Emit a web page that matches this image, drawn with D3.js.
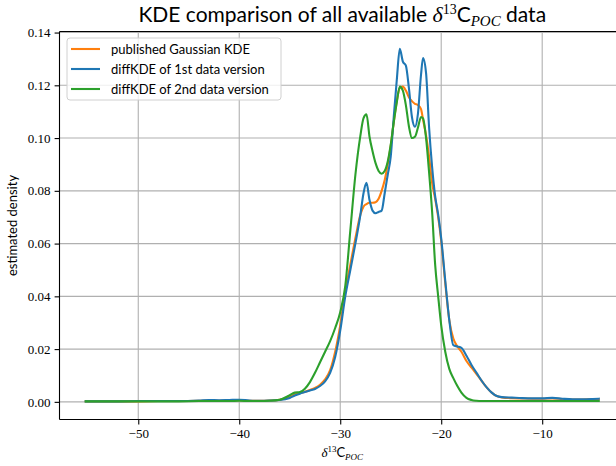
<!DOCTYPE html>
<html>
<head>
<meta charset="utf-8">
<script src="https://cdn.jsdelivr.net/npm/d3@7"></script>
<style>
  html, body { margin: 0; padding: 0; background: #fff; }
  svg { display: block; }
  .tick text { font-family: "Liberation Serif", "DejaVu Serif", serif; font-size: 13px; fill: #000; }
</style>
</head>
<body>
<svg id="chart" width="616" height="466"></svg>
<script>
// ---------- data ----------
const xValues = [-55.2, -52, -50, -48, -46, -44, -43, -42, -41, -40, -39, -38, -37, -36, -35, -34.5, -34, -33.5, -33, -32.5, -32, -31.5, -31, -30.5, -30, -29.5, -29, -28.5, -28, -27.7, -27.4, -27.1, -26.8, -26.5, -26.2, -25.9, -25.6, -25.3, -25, -24.7, -24.4, -24.1, -23.8, -23.5, -23.2, -22.9, -22.6, -22.3, -22, -21.8, -21.5, -21.2, -20.9, -20.6, -20.3, -20, -19.6, -19.2, -18.8, -18.4, -18, -17.5, -17, -16.5, -16, -15.5, -15, -14.5, -14, -13, -12, -11, -10, -9, -8, -7, -6, -5, -4.4];

const publishedKDE = [0.0002, 0.0002, 0.0002, 0.0003, 0.0003, 0.0004, 0.0005, 0.0004, 0.0005, 0.0006, 0.0004, 0.0004, 0.0005, 0.0008, 0.0018, 0.0028, 0.0033, 0.0038, 0.0045, 0.0053, 0.0065, 0.0085, 0.012, 0.019, 0.029, 0.042, 0.052, 0.062, 0.071, 0.074, 0.075, 0.0755, 0.0755, 0.0757, 0.077, 0.080, 0.084, 0.090, 0.097, 0.106, 0.114, 0.119, 0.1195, 0.118, 0.1155, 0.114, 0.113, 0.1125, 0.111, 0.107, 0.101, 0.093, 0.083, 0.077, 0.070, 0.061, 0.045, 0.031, 0.024, 0.021, 0.019, 0.0155, 0.013, 0.0105, 0.008, 0.0055, 0.0035, 0.0022, 0.0017, 0.0014, 0.0013, 0.0012, 0.0012, 0.0013, 0.0011, 0.0009, 0.0009, 0.001, 0.001];

const diffKDE1 = [0.0002, 0.0002, 0.0003, 0.0003, 0.0003, 0.0005, 0.0007, 0.0006, 0.0007, 0.0008, 0.0005, 0.0004, 0.0005, 0.0007, 0.0015, 0.0024, 0.0031, 0.0037, 0.0043, 0.0049, 0.006, 0.0078, 0.011, 0.017, 0.027, 0.040, 0.050, 0.060, 0.071, 0.079, 0.083, 0.0765, 0.0725, 0.0715, 0.072, 0.0725, 0.079, 0.086, 0.093, 0.108, 0.122, 0.1338, 0.129, 0.1275, 0.119, 0.108, 0.1043, 0.1094, 0.124, 0.1303, 0.1246, 0.104, 0.089, 0.078, 0.071, 0.062, 0.046, 0.031, 0.0215, 0.021, 0.0205, 0.0175, 0.014, 0.011, 0.008, 0.0055, 0.0035, 0.0022, 0.0018, 0.0016, 0.0014, 0.0013, 0.0013, 0.0015, 0.0012, 0.001, 0.001, 0.0011, 0.0012];

const diffKDE2 = [0.0002, 0.0002, 0.0002, 0.0002, 0.0002, 0.0003, 0.0003, 0.0003, 0.0003, 0.0004, 0.0003, 0.0003, 0.0004, 0.0008, 0.0025, 0.0035, 0.0037, 0.005, 0.0075, 0.011, 0.015, 0.019, 0.023, 0.028, 0.034, 0.044, 0.065, 0.086, 0.101, 0.1075, 0.109, 0.1005, 0.095, 0.0905, 0.0875, 0.0865, 0.0875, 0.091, 0.0975, 0.106, 0.1135, 0.1195, 0.118, 0.1125, 0.1045, 0.100, 0.1005, 0.104, 0.108, 0.1075, 0.100, 0.087, 0.072, 0.052, 0.040, 0.029, 0.019, 0.0125, 0.009, 0.006, 0.0035, 0.0015, 0.0007, 0.0004, 0.0003, 0.0003, 0.0003, 0.0003, 0.0003, 0.0003, 0.0003, 0.0003, 0.0003, 0.0003, 0.0003, 0.0003, 0.0003, 0.0003, 0.0003];

const seriesNames = ["published Gaussian KDE", "diffKDE of 1st data version", "diffKDE of 2nd data version"];
const seriesColors = ["#ff7f0e", "#1f77b4", "#2ca02c"];
const xTicks = [-50, -40, -30, -20, -10];
const yTicks = [0, 0.02, 0.04, 0.06, 0.08, 0.10, 0.12, 0.14];

// ---------- layout ----------
const svg = d3.select("#chart");
const L = 59.5, R = 625, T = 31.5, B = 419.5;
const x = d3.scaleLinear().domain([-57.8, -1.8]).range([L, R]);
const y = d3.scaleLinear().domain([-0.00669, 0.1404]).range([B, T]);

const sans = "Lato, 'Open Sans', 'DejaVu Sans', sans-serif";
const serif = "'Liberation Serif', 'DejaVu Serif', serif";

// grid
const grid = svg.append("g");
grid.selectAll("line.gx").data(xTicks).join("line")
  .attr("x1", d => x(d)).attr("x2", d => x(d)).attr("y1", T).attr("y2", B)
  .attr("stroke", "#b0b0b0").attr("stroke-width", 1.1);
grid.selectAll("line.gy").data(yTicks).join("line")
  .attr("x1", L).attr("x2", R).attr("y1", d => y(d)).attr("y2", d => y(d))
  .attr("stroke", "#b0b0b0").attr("stroke-width", 1.1);

// lines
svg.append("clipPath").attr("id", "clip").append("rect")
  .attr("x", L).attr("y", T).attr("width", R - L).attr("height", B - T);
const allSeries = [publishedKDE, diffKDE1, diffKDE2];
const line = d3.line().x((d, i) => x(xValues[i])).y(d => y(d)).curve(d3.curveMonotoneX);
const lg = svg.append("g").attr("clip-path", "url(#clip)");
allSeries.forEach((s, k) => {
  lg.append("path").datum(s).attr("d", line)
    .attr("fill", "none").attr("stroke", seriesColors[k])
    .attr("stroke-width", 2.1).attr("stroke-linejoin", "round").attr("stroke-linecap", "square");
});

// axes
const fmtX = d => "\u2212" + Math.abs(d);
const xAxis = d3.axisBottom(x).tickValues(xTicks).tickFormat(fmtX).tickSize(4.9).tickPadding(4);
const yAxis = d3.axisLeft(y).tickValues(yTicks).tickFormat(d3.format(".2f")).tickSize(4.9).tickPadding(4);
const gx = svg.append("g").attr("transform", `translate(0,${B})`).call(xAxis);
const gy = svg.append("g").attr("transform", `translate(${L},0)`).call(yAxis);
[gx, gy].forEach(g => {
  g.select(".domain").remove();
  g.selectAll(".tick line").attr("stroke", "#000").attr("stroke-width", 1.1);
});
// spines
svg.append("line").attr("x1", L).attr("x2", L).attr("y1", T).attr("y2", B).attr("stroke", "#000").attr("stroke-width", 1.1);
svg.append("line").attr("x1", L).attr("x2", R).attr("y1", B).attr("y2", B).attr("stroke", "#000").attr("stroke-width", 1.1);
svg.append("line").attr("x1", L).attr("x2", R).attr("y1", T).attr("y2", T).attr("stroke", "#000").attr("stroke-width", 1.1);
svg.append("line").attr("x1", R).attr("x2", R).attr("y1", T).attr("y2", B).attr("stroke", "#000").attr("stroke-width", 1.1);

// title
const cx = (L + R) / 2;
const title = svg.append("text").attr("x", cx).attr("y", 22).attr("text-anchor", "middle")
  .attr("font-family", sans).attr("font-size", 21).attr("fill", "#000");
title.append("tspan").text("KDE comparison of all available ");
title.append("tspan").attr("font-family", serif).attr("font-style", "italic").attr("font-size", 22).text("δ");
title.append("tspan").attr("font-family", serif).attr("font-size", 14).attr("dy", -8).text("13");
title.append("tspan").attr("dy", 8).text("C");
title.append("tspan").attr("font-family", serif).attr("font-style", "italic").attr("font-size", 15).attr("dy", 4).text("POC");
title.append("tspan").attr("dy", -4).text(" data");

// x label
const xl = svg.append("text").attr("x", cx).attr("y", 457).attr("text-anchor", "middle")
  .attr("font-family", sans).attr("font-size", 13).attr("fill", "#000");
xl.append("tspan").attr("font-family", serif).attr("font-style", "italic").text("δ");
xl.append("tspan").attr("font-family", serif).attr("font-size", 9).attr("dy", -5).text("13");
xl.append("tspan").attr("dy", 5).text("C");
xl.append("tspan").attr("font-family", serif).attr("font-style", "italic").attr("font-size", 9).attr("dy", 3).text("POC");

// y label
svg.append("text").attr("transform", `translate(17,${(T + B) / 2}) rotate(-90)`)
  .attr("text-anchor", "middle").attr("font-family", sans).attr("font-size", 13)
  .attr("fill", "#000").text("estimated density");

// legend
const leg = svg.append("g");
leg.append("rect").attr("x", 67).attr("y", 38).attr("width", 214).attr("height", 62)
  .attr("rx", 3).attr("fill", "#fff").attr("fill-opacity", 0.8)
  .attr("stroke", "#d0d0d0").attr("stroke-width", 1);
seriesNames.forEach((n, k) => {
  const yy = 49 + k * 20;
  leg.append("line").attr("x1", 71).attr("x2", 100).attr("y1", yy).attr("y2", yy)
    .attr("stroke", seriesColors[k]).attr("stroke-width", 2.1);
  leg.append("text").attr("x", 111).attr("y", yy + 4.5).attr("font-family", sans)
    .attr("font-size", 13).attr("fill", "#000").text(n);
});
</script>
</body>
</html>
